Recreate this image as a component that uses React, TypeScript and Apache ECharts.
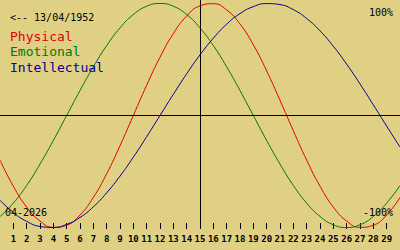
import React, { useEffect, useRef } from "react";
import * as echarts from "echarts";

const days = [0, 1, 2, 3, 4, 5, 6, 7, 8, 9, 10, 11, 12, 13, 14, 15, 16, 17, 18, 19, 20, 21, 22, 23, 24, 25, 26, 27, 28, 29, 30];
const physical = [-39.8, -63.1, -81.7, -94.2, -99.8, -97.9, -88.8, -73.1, -52.0, -27.0, 0, 27.0, 52.0, 73.1, 88.8, 97.9, 99.8, 94.2, 81.7, 63.1, 39.8, 13.6, -13.6, -39.8, -63.1, -81.7, -94.2, -99.8, -97.9, -88.8, -73.1];
const emotional = [-90.1, -78.2, -62.4, -43.4, -22.3, 0, 22.3, 43.4, 62.4, 78.2, 90.1, 97.5, 100, 97.5, 90.1, 78.2, 62.4, 43.4, 22.3, 0, -22.3, -43.4, -62.4, -78.2, -90.1, -97.5, -100, -97.5, -90.1, -78.2, -62.4];
const intellectual = [-75.6, -86.6, -94.5, -99.0, -99.9, -97.2, -91.0, -81.5, -69.0, -54.1, -37.2, -18.9, 0, 18.9, 37.2, 54.1, 69.0, 81.5, 91.0, 97.2, 99.9, 99.0, 94.5, 86.6, 75.6, 61.8, 45.8, 28.2, 9.5, -9.5, -28.2];
const tickDays = [1, 2, 3, 4, 5, 6, 7, 8, 9, 10, 11, 12, 13, 14, 15, 16, 17, 18, 19, 20, 21, 22, 23, 24, 25, 26, 27, 28, 29];
const today = 15;
const birthLabel = "<-- 13/04/1952";
const monthLabel = "04-2026";
const seriesNames = ["Physical", "Emotional", "Intellectual"];
const seriesColors = ["#e00000", "#007800", "#000090"];
const topLabel = "100%";
const bottomLabel = "-100%";

const MONO = "'DejaVu Sans Mono', monospace";

export default function App() {
  const ref = useRef<HTMLDivElement>(null);
  useEffect(() => {
    if (!ref.current) return;
    const chart = echarts.init(ref.current, undefined, { renderer: "svg" });
    const values = [physical, emotional, intellectual];
    const series: any[] = values.map((vals, i) => ({
      type: "line",
      name: seriesNames[i],
      data: days.map((d, j) => [d, vals[j]]),
      smooth: true,
      symbol: "none",
      lineStyle: { color: seriesColors[i], width: 1 },
      z: 2,
    }));
    series[0].markLine = {
      silent: true,
      symbol: "none",
      label: { show: false },
      lineStyle: { color: "#000", width: 1, type: "solid" },
      data: [{ xAxis: today }, { yAxis: 0 }],
      z: 5,
    };
    chart.setOption({
      animation: false,
      backgroundColor: "#e0d084",
      grid: { left: 0, right: 0, top: 0, bottom: 21 },
      xAxis: {
        type: "value",
        position: "bottom",
        min: 0,
        max: 30,
        axisLine: { show: false, onZero: false },
        splitLine: { show: false },
        axisTick: {
          show: true,
          inside: true,
          length: 6,
          customValues: tickDays,
          lineStyle: { color: "#000", width: 1 },
        },
        axisLabel: {
          customValues: tickDays,
          margin: 5,
          color: "#000",
          fontFamily: MONO,
          fontSize: 9,
          fontWeight: "bold",
        },
      },
      yAxis: {
        type: "value",
        min: -101.3,
        max: 103.1,
        show: false,
        splitLine: { show: false },
      },
      series,
      graphic: [
        {
          type: "text",
          left: 10,
          top: 12,
          z: 10,
          style: { text: birthLabel, fill: "#000", font: `10px ${MONO}` },
        },
        ...seriesNames.map((n, i) => ({
          type: "text",
          left: 10,
          top: 30 + i * 15.3,
          z: 10,
          style: { text: n, fill: seriesColors[i], font: `13px ${MONO}` },
        })),
        {
          type: "text",
          right: 7,
          top: 7,
          z: 10,
          style: { text: topLabel, fill: "#000", font: `10px ${MONO}` },
        },
        {
          type: "text",
          right: 7,
          top: 207,
          z: 10,
          style: { text: bottomLabel, fill: "#000", font: `10px ${MONO}` },
        },
        {
          type: "text",
          left: 5,
          top: 207,
          z: 10,
          style: { text: monthLabel, fill: "#000", font: `10px ${MONO}` },
        },
      ],
    });
    return () => chart.dispose();
  }, []);
  return (
    <div
      ref={ref}
      style={{ position: "fixed", left: 0, top: 0, width: 400, height: 250 }}
    />
  );
}
